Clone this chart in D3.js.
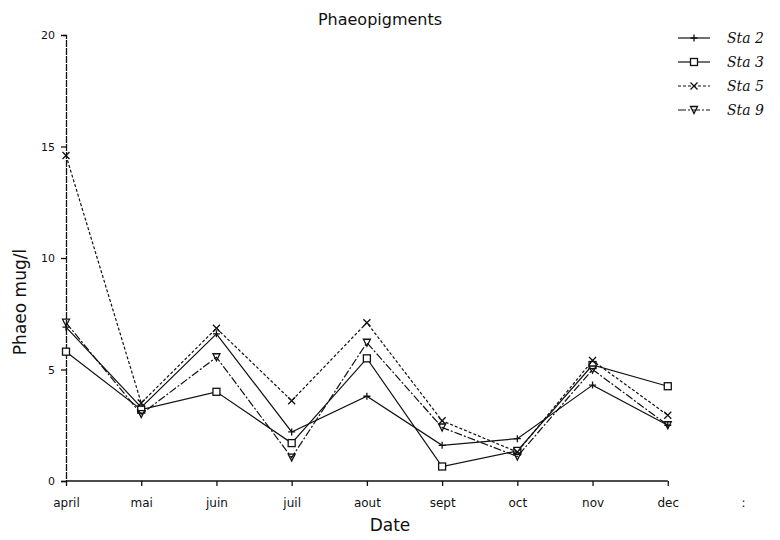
<!DOCTYPE html>
<html>
<head>
<meta charset="utf-8">
<script src="https://cdn.jsdelivr.net/npm/d3@7/dist/d3.min.js"></script>
<style>
  body { margin: 0; background: #fff; }
  svg { display: block; }
  text { font-family: "DejaVu Sans", sans-serif; fill: #111; }
</style>
</head>
<body>
<svg id="chart" width="780" height="540"></svg>
<script>
// categories + tick labels (last tick is a stray ":" with no data)
const months = ["april", "mai", "juin", "juil", "aout", "sept", "oct", "nov", "dec"];
const tickLabels = ["april", "mai", "juin", "juil", "aout", "sept", "oct", "nov", "dec", ":"];
const yTicks = [0, 5, 10, 15, 20];

// values (mug/l)
const sta2 = [6.9, 3.3, 6.6, 2.2, 3.8, 1.6, 1.9, 4.3, 2.5];
const sta3 = [5.8, 3.2, 4.0, 1.7, 5.5, 0.65, 1.35, 5.2, 4.25];
const sta5 = [14.6, 3.5, 6.85, 3.6, 7.1, 2.7, 1.3, 5.4, 2.95];
const sta9 = [7.1, 3.0, 5.55, 1.05, 6.2, 2.4, 1.1, 5.0, 2.5];

const seriesNames = ["Sta 2", "Sta 3", "Sta 5", "Sta 9"];

var svg = d3.select("#chart");

var x = d3.scalePoint()
  .domain(tickLabels)
  .range([66, 743]);

var y = d3.scaleLinear()
  .domain([0, 20])
  .range([481, 35]);

var series = [
  { name: seriesNames[0], values: sta2, dash: null, marker: "plus" },
  { name: seriesNames[1], values: sta3, dash: null, marker: "square" },
  { name: seriesNames[2], values: sta5, dash: "3,2", marker: "cross" },
  { name: seriesNames[3], values: sta9, dash: "8,2,2,2", marker: "tri" }
];

// markers
function drawMarker(g, type, cx, cy) {
  var s = 3.5;
  if (type === "plus") {
    g.append("path")
      .attr("d", "M" + (cx - s) + "," + cy + "H" + (cx + s) + "M" + cx + "," + (cy - s) + "V" + (cy + s))
      .attr("stroke", "#111").attr("stroke-width", 1.3).attr("fill", "none");
  } else if (type === "square") {
    g.append("rect")
      .attr("x", cx - 3.5).attr("y", cy - 3.5).attr("width", 7).attr("height", 7)
      .attr("stroke", "#111").attr("stroke-width", 1.3).attr("fill", "#fff");
  } else if (type === "cross") {
    g.append("path")
      .attr("d", "M" + (cx - s) + "," + (cy - s) + "L" + (cx + s) + "," + (cy + s) + "M" + (cx - s) + "," + (cy + s) + "L" + (cx + s) + "," + (cy - s))
      .attr("stroke", "#111").attr("stroke-width", 1.3).attr("fill", "none");
  } else {
    g.append("path")
      .attr("d", "M" + (cx - s) + "," + (cy - s) + "H" + (cx + s) + "L" + cx + "," + (cy + s) + "Z")
      .attr("stroke", "#111").attr("stroke-width", 1.3).attr("fill", "none");
  }
}

// axes
var xAxis = svg.append("g")
  .attr("transform", "translate(0,481)")
  .call(d3.axisBottom(x).tickSize(5).tickPadding(12));
xAxis.select(".domain").remove();
xAxis.selectAll(".tick").filter(d => d === ":").select("line").remove();
xAxis.selectAll("line").attr("stroke", "#111").attr("stroke-width", 1.3);
xAxis.selectAll("text").style("font-size", "12px");
svg.append("line")
  .attr("x1", x(months[0])).attr("x2", x(months[months.length - 1]))
  .attr("y1", 481).attr("y2", 481)
  .attr("stroke", "#111").attr("stroke-width", 1.6);

var yAxis = svg.append("g")
  .attr("transform", "translate(66,0)")
  .call(d3.axisLeft(y).tickValues(yTicks).tickSize(5).tickPadding(6));
yAxis.select(".domain").attr("stroke", "#111").attr("stroke-width", 1.3).attr("stroke-dasharray", "7,1");
yAxis.selectAll("line").attr("stroke", "#111").attr("stroke-width", 1.3);
yAxis.selectAll("text").style("font-size", "11px");

// lines
var line = d3.line()
  .x((d, i) => x(months[i]))
  .y(d => y(d));

series.forEach(function(s) {
  svg.append("path")
    .datum(s.values)
    .attr("d", line)
    .attr("fill", "none")
    .attr("stroke", "#111")
    .attr("stroke-width", 1.2)
    .attr("stroke-dasharray", s.dash);
  var g = svg.append("g");
  s.values.forEach((v, i) => drawMarker(g, s.marker, x(months[i]), y(v)));
});

// titles
svg.append("text")
  .attr("x", 380).attr("y", 25)
  .attr("text-anchor", "middle")
  .style("font-size", "16px")
  .text("Phaeopigments");

svg.append("text")
  .attr("x", 390).attr("y", 531)
  .attr("text-anchor", "middle")
  .style("font-size", "17px")
  .text("Date");

svg.append("text")
  .attr("transform", "translate(26,302) rotate(-90)")
  .attr("text-anchor", "middle")
  .style("font-size", "17px")
  .text("Phaeo mug/l");

// legend
var legend = svg.append("g");
series.forEach(function(s, i) {
  var ly = 38 + i * 24;
  legend.append("line")
    .attr("x1", 678).attr("x2", 710)
    .attr("y1", ly).attr("y2", ly)
    .attr("stroke", "#111").attr("stroke-width", 1.2)
    .attr("stroke-dasharray", s.dash);
  drawMarker(legend, s.marker, 694, ly);
  legend.append("text")
    .attr("x", 727).attr("y", ly + 5)
    .style("font-size", "14px")
    .style("font-style", "italic")
    .style("font-family", "'DejaVu Serif', serif")
    .text(s.name);
});
</script>
</body>
</html>
